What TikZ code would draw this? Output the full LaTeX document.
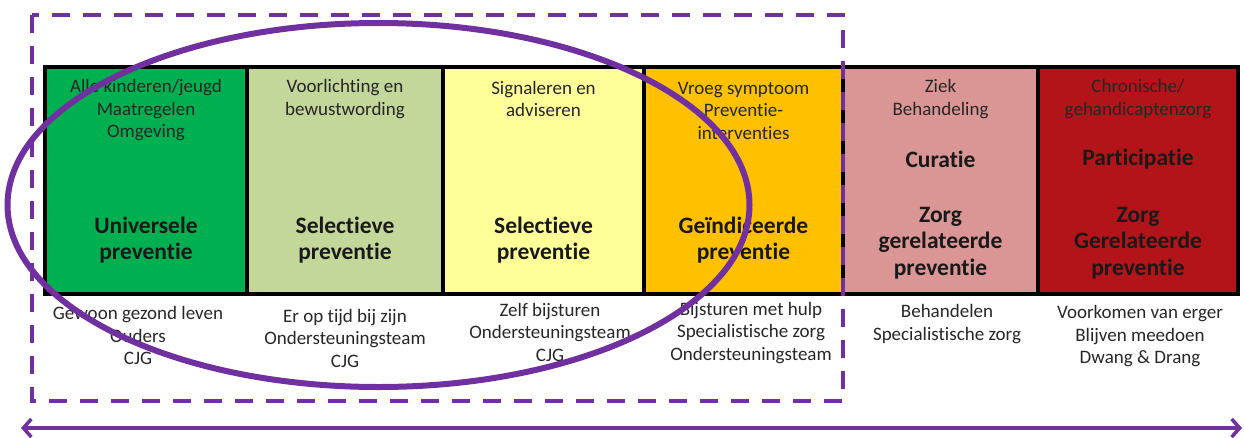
\documentclass[tikz,border=0pt]{standalone}
\usepackage{fontspec}
\setmainfont{Carlito}[Ligatures=NoCommon]
\usetikzlibrary{arrows.meta}
\definecolor{pur}{RGB}{112,48,160}
\definecolor{cgreen}{RGB}{0,176,80}
\definecolor{colive}{RGB}{196,215,155}
\definecolor{cyellow}{RGB}{255,255,153}
\definecolor{corange}{RGB}{255,192,0}
\definecolor{cpink}{RGB}{218,150,148}
\definecolor{cred}{RGB}{178,20,26}
\begin{document}
\begin{tikzpicture}[x=1pt,y=-1pt,
  cellbox/.style={draw=black, line width=3.5pt, minimum height=227pt, inner sep=0pt, outer sep=0pt},
  small/.style={font=\fontsize{19}{22.5}\selectfont, align=center, inner sep=0pt, text=black!85},
  big/.style={font=\bfseries\fontsize{23.5}{26.5}\selectfont, align=center, inner sep=0pt, text=black!90},
  purline/.style={draw=pur, line width=3.5pt}]
\useasboundingbox (0,0) rectangle (1244,437);
% cells
\node[cellbox, fill=cgreen, minimum width=202pt] (c1) at (146,180.5) {};
\node[cellbox, fill=colive, minimum width=196pt] (c2) at (345,180.5) {};
\node[cellbox, fill=cyellow, minimum width=201pt] (c3) at (543.5,180.5) {};
\node[cellbox, fill=corange, minimum width=199pt] (c4) at (743.5,180.5) {};
\node[cellbox, fill=cpink, minimum width=195pt] (c5) at (940.5,180.5) {};
\node[cellbox, fill=cred, minimum width=200pt] (c6) at (1138,180.5) {};
\draw[line width=4pt] (c1.north west) rectangle (c6.south east);
% top texts
\node[small] (t1) at (146,110.5) {Alle kinderen/jeugd\\Maatregelen\\Omgeving};
\node[small] (t2) at (345,99) {Voorlichting en\\bewustwording};
\node[small] (t3) at (543.5,99) {Signaleren en\\adviseren};
\node[small] (t4) at (743.5,110.5) {Vroeg symptoom\\Preventie-\\interventies};
\node[small] (t5) at (940.5,99) {Ziek\\Behandeling};
\node[small] (t6) at (1138,99) {Chronische/\\gehandicaptenzorg};
% bold texts
\node[big] (b1) at (146,240) {Universele\\preventie};
\node[big] (b2) at (345,240) {Selectieve\\preventie};
\node[big] (b3) at (543.5,240) {Selectieve\\preventie};
\node[big] (b4) at (743.5,240) {Geïndiceerde\\preventie};
\node[big] (h5) at (940.5,159) {Curatie};
\node[big] (h6) at (1138,159) {Participatie};
\node[big] (b5) at (940.5,243) {Zorg\\gerelateerde\\preventie};
\node[big] (b6) at (1138,243) {Zorg\\Gerelateerde\\preventie};
% bottom texts
\node[small] (u1) at (138,335.5) {Gewoon gezond leven\\Ouders\\CJG};
\node[small] (u2) at (345,338) {Er op tijd bij zijn\\Ondersteuningsteam\\CJG};
\node[small] (u3) at (550,332) {Zelf bijsturen\\Ondersteuningsteam\\CJG};
\node[small] (u4) at (751,333) {Bijsturen met hulp\\Specialistische zorg\\Ondersteuningsteam};
\node[small] (u5) at (947,324) {Behandelen\\Specialistische zorg};
\node[small] (u6) at (1140,336.5) {Voorkomen van erger\\Blijven meedoen\\Dwang \& Drang};
% dashed frame
\coordinate (dNW) at (32,15);
\coordinate (dSE) at (843,401);
\draw[purline, dash pattern=on 18pt off 13pt] (dNW) rectangle (dSE);
% ellipse
\coordinate (ec) at (378.5,205);
\draw[draw=pur, line width=6pt] (ec) ellipse [x radius=371pt, y radius=182pt];
% arrow
\coordinate (aL) at (21,428);
\coordinate (aR) at (1242,428);
\draw[draw=pur, line width=3.5pt, {Straight Barb[length=8pt,width=18pt]}-{Straight Barb[length=8pt,width=18pt]}] (aL) -- (aR);
\end{tikzpicture}
\end{document}
